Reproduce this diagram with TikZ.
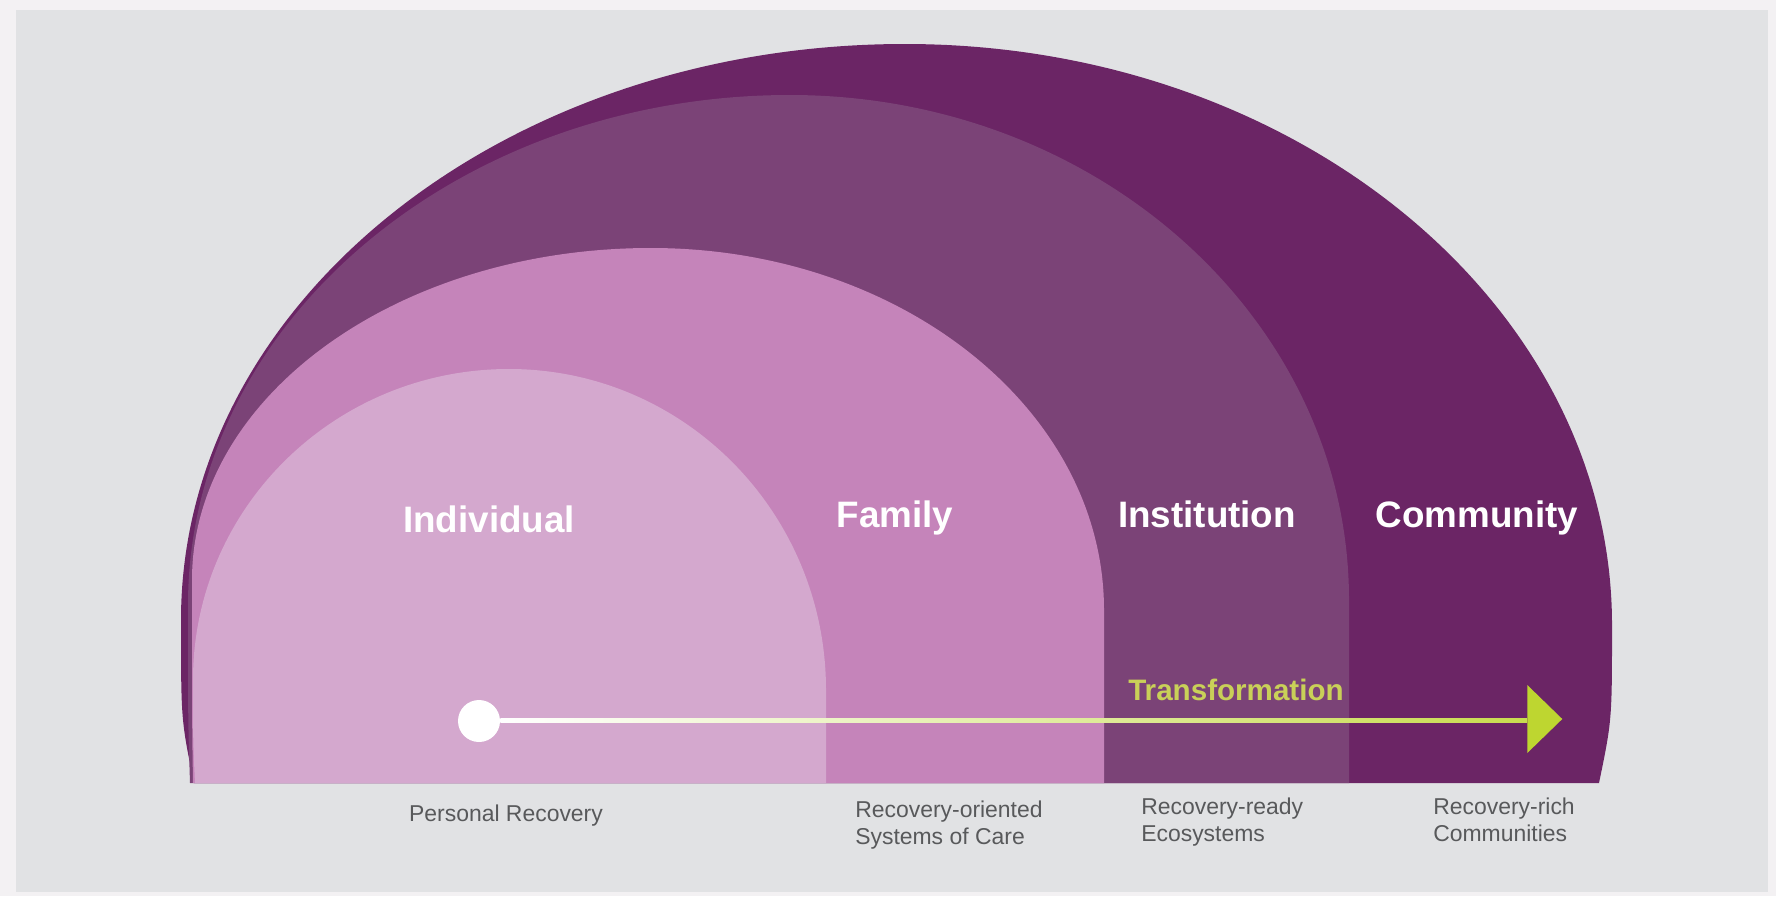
\documentclass[tikz,border=0pt]{standalone}
\usepackage{fontspec}
\setmainfont{Liberation Sans}
\usetikzlibrary{shapes.geometric}

\definecolor{pagebg}{RGB}{243,241,243}
\definecolor{panelbg}{RGB}{225,226,228}
\definecolor{commpurple}{RGB}{107,37,101}
\definecolor{instpurple}{RGB}{123,67,119}
\definecolor{fampink}{RGB}{197,132,186}
\definecolor{indpink}{RGB}{212,168,206}
\definecolor{arrowlime}{RGB}{190,214,48}
\definecolor{limetext}{RGB}{201,208,88}
\definecolor{captiongrey}{RGB}{88,89,91}

\begin{document}
\begin{tikzpicture}[x=0.75pt,y=0.75pt,yscale=-1,xscale=1,
  level/.style={font=\bfseries\fontsize{27.6}{33}\selectfont, text=white, inner sep=0pt, anchor=base},
  sublabel/.style={font=\fontsize{17.2}{20.3}\selectfont, text=captiongrey, inner sep=0pt, align=left, anchor=north west},
  dot/.style={circle, fill=white, minimum size=31.5pt, inner sep=0pt},
  headtri/.style={isosceles triangle, isosceles triangle stretches, fill=arrowlime, minimum width=51pt, minimum height=26.25pt, inner sep=0pt, anchor=lower side}]
\useasboundingbox (0,0) rectangle (1776,896);

%Shape: Rectangle [page and panel]
\fill[pagebg] (0,0) rectangle (1776,896);
\fill[panelbg] (16,10) rectangle (1768,892);

%Shape: Arch [community]
\fill[commpurple] (194,783) .. controls (181,720) .. (181,620) arc [start angle=180, end angle=270, x radius=724, y radius=576] arc [start angle=270, end angle=360, x radius=707, y radius=581] .. controls (1612,720) .. (1599,783) -- cycle ;
%Shape: Arch [institution]
\fill[instpurple] (190,783) .. controls (188,720) .. (188,605) arc [start angle=180, end angle=270, x radius=602, y radius=510] arc [start angle=270, end angle=360, x radius=559, y radius=505] -- (1349,783) -- cycle ;
%Shape: Arch [family]
\fill[fampink] (193,783) .. controls (192,720) .. (192,580) arc [start angle=180, end angle=270, x radius=459, y radius=332] arc [start angle=270, end angle=360, x radius=453, y radius=362] -- (1104,783) -- cycle ;
%Shape: Arch [individual]
\fill[indpink] (195,783) .. controls (193,740) .. (193,680) arc [start angle=180, end angle=270, x radius=316, y radius=311] arc [start angle=270, end angle=360, x radius=317, y radius=321] -- (826,783) -- cycle ;

% Text Node
\node[level] (ind) at (489,532) {Individual};
% Text Node
\node[level] (fam) at (895,527) {Family};
% Text Node
\node[level] (inst) at (1207,527) {Institution};
% Text Node
\node[level] (comm) at (1477,527) {Community};

%Transformation arrow
\node[dot] (start) at (479,721) {};
\node[headtri] (head) at (1527,719) {};
\shade[left color=white, right color=arrowlime!85!white] ([yshift=-2.25pt]start.east) rectangle ([yshift=2.25pt]head.lower side);
% Text Node
\node[font=\bfseries\fontsize{22.2}{26}\selectfont, text=limetext, inner sep=0pt, anchor=base] (trans) at (1236,700) {Transformation};

% Text Node
\node[sublabel, anchor=base] (personal) at (506,821) {Personal Recovery};
% Text Node
\node[sublabel] (oriented) at (855,801) {Recovery-oriented\\Systems of Care};
% Text Node
\node[sublabel] (ready) at (1141,798) {Recovery-ready\\Ecosystems};
% Text Node
\node[sublabel] (rich) at (1433,798) {Recovery-rich\\Communities};

\end{tikzpicture}
\end{document}
